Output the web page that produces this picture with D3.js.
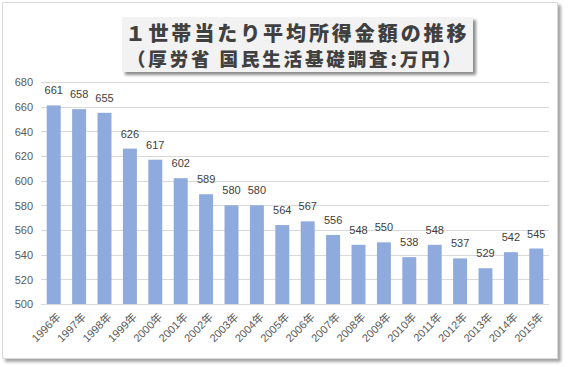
<!DOCTYPE html>
<html>
<head>
<meta charset="utf-8">
<script src="https://cdn.jsdelivr.net/npm/d3@7"></script>
<style>
  html, body { margin: 0; padding: 0; background: #ffffff; }
  svg { display: block; }
</style>
</head>
<body>
<svg id="chart" width="568" height="367"></svg>
<script>
const years = ["1996年","1997年","1998年","1999年","2000年","2001年","2002年","2003年","2004年","2005年",
               "2006年","2007年","2008年","2009年","2010年","2011年","2012年","2013年","2014年","2015年"];
const incomes = [661, 658, 655, 626, 617, 602, 589, 580, 580, 564,
                 567, 556, 548, 550, 538, 548, 537, 529, 542, 545];
const yTicks = [500, 520, 540, 560, 580, 600, 620, 640, 660, 680];
const titleLine1 = "１世帯当たり平均所得金額の推移";
const titleLine2 = "（厚労省 国民生活基礎調査:万円）";

const svg = d3.select("#chart");
const defs = svg.append("defs");
const sh = defs.append("filter").attr("id", "shadow")
  .attr("x", "-10%").attr("y", "-10%").attr("width", "130%").attr("height", "140%");
sh.append("feDropShadow").attr("dx", 3).attr("dy", 3).attr("stdDeviation", 1.6)
  .attr("flood-color", "#000").attr("flood-opacity", 0.45);
const sh2 = defs.append("filter").attr("id", "shadow2")
  .attr("x", "-5%").attr("y", "-5%").attr("width", "110%").attr("height", "110%");
sh2.append("feDropShadow").attr("dx", 3).attr("dy", 3).attr("stdDeviation", 1.5)
  .attr("flood-color", "#000").attr("flood-opacity", 0.35);

// chart frame
svg.append("rect")
  .attr("x", 2.5).attr("y", 2.5).attr("width", 555).attr("height", 356)
  .attr("fill", "#ffffff").attr("stroke", "#d9d9d9").attr("stroke-width", 1)
  .attr("filter", "url(#shadow2)");

const x = d3.scaleBand().domain(years).range([41, 549]).paddingInner(0.45).paddingOuter(0.225);
const y = d3.scaleLinear().domain([500, 680]).range([304, 82]);

const font = "'Liberation Sans', 'Noto Sans CJK JP', sans-serif";

// gridlines
svg.append("g").selectAll("line").data(yTicks.filter(d => d !== 500)).join("line")
  .attr("x1", 41).attr("x2", 549)
  .attr("y1", d => Math.round(y(d)) + 0.5).attr("y2", d => Math.round(y(d)) + 0.5)
  .attr("stroke", "#d9d9d9").attr("stroke-width", 1);

// y axis labels
const yAxis = d3.axisLeft(y).tickValues(yTicks).tickSize(0).tickPadding(0);
const gy = svg.append("g").attr("transform", "translate(33,0)").call(yAxis);
gy.select(".domain").remove();
gy.selectAll("text").attr("font-family", font).attr("font-size", 11).attr("fill", "#595959")
  .attr("dy", "0.36em");

// bars
svg.append("g").selectAll("rect").data(incomes).join("rect")
  .attr("x", (d, i) => x(years[i]))
  .attr("y", d => y(d))
  .attr("width", x.bandwidth())
  .attr("height", d => y(500) - y(d))
  .attr("fill", "#8faadc");

// x axis
const xAxis = d3.axisBottom(x).tickSize(0).tickPadding(0);
const gx = svg.append("g").attr("transform", "translate(0,304)").call(xAxis);
gx.select(".domain").attr("stroke", "#d9d9d9").attr("d", "M41,0.5H549");
gx.selectAll("text")
  .attr("font-family", font).attr("font-size", 11).attr("fill", "#595959")
  .attr("text-anchor", "end")
  .attr("transform", "translate(5,11) rotate(-45)")
  .attr("dy", "0.35em").attr("y", 0).attr("x", 0);

// data labels
svg.append("g").selectAll("text").data(incomes).join("text")
  .attr("x", (d, i) => x(years[i]) + x.bandwidth() / 2)
  .attr("y", d => y(d) - 11)
  .attr("text-anchor", "middle")
  .attr("font-family", font).attr("font-size", 11).attr("fill", "#404040")
  .text(d => d);

// title box
svg.append("rect")
  .attr("x", 122).attr("y", 17).attr("width", 351).attr("height", 55)
  .attr("fill", "#f2f2f2").attr("filter", "url(#shadow)");

const tfont = "'Noto Sans CJK JP', sans-serif";
svg.append("text").attr("x", 296).attr("y", 40.5).attr("text-anchor", "middle")
  .attr("font-family", tfont).attr("font-weight", 900).attr("font-size", 20)
  .attr("fill", "#404040")
  .attr("textLength", 341).attr("lengthAdjust", "spacing")
  .text(titleLine1);
svg.append("text").attr("x", 294).attr("y", 65.5).attr("text-anchor", "middle")
  .attr("font-family", tfont).attr("font-weight", 900).attr("font-size", 18.5)
  .attr("fill", "#404040")
  .attr("textLength", 334).attr("lengthAdjust", "spacing")
  .text(titleLine2);
</script>
</body>
</html>
